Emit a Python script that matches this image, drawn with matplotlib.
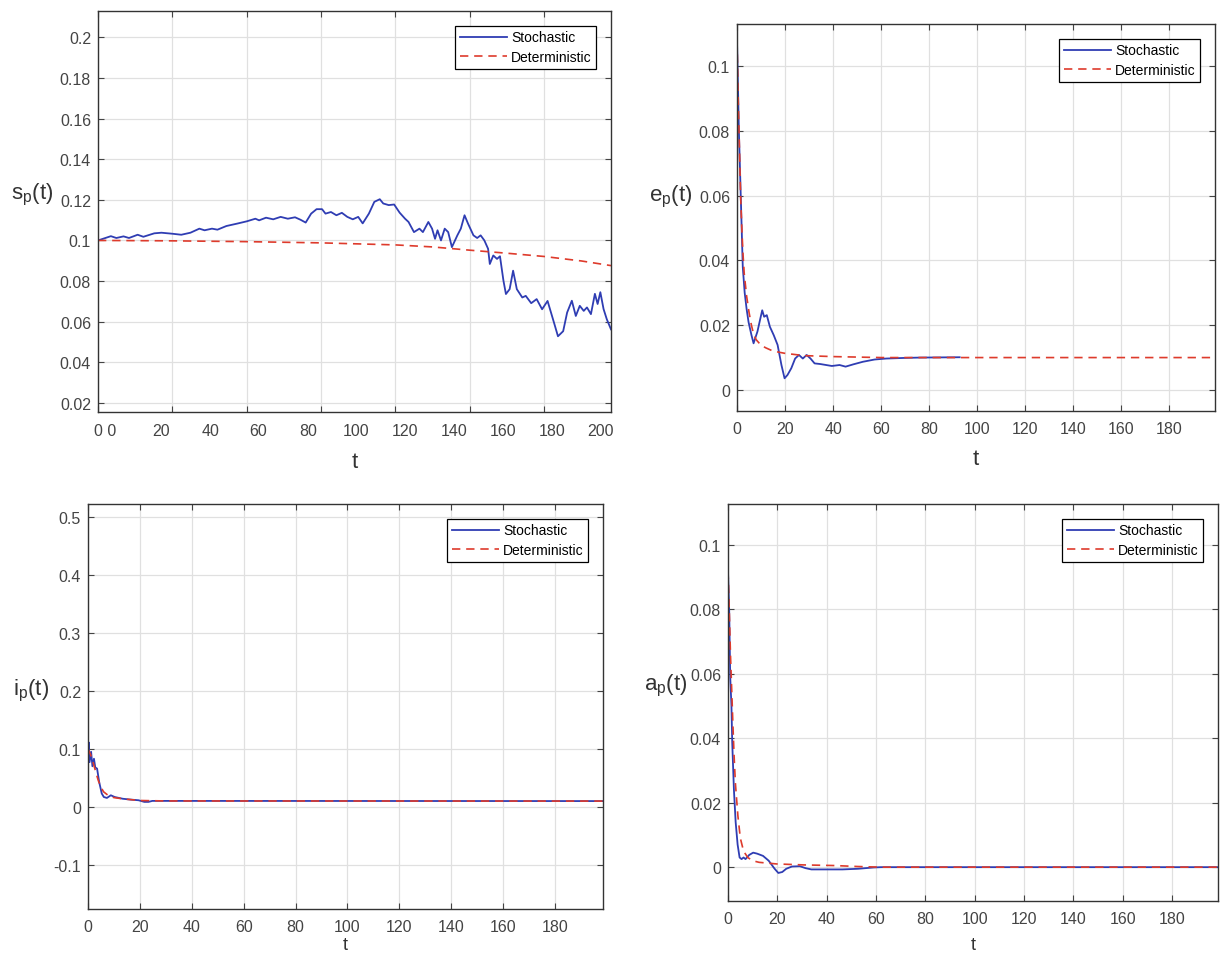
import numpy as np
import matplotlib
matplotlib.use("Agg")
import matplotlib.pyplot as plt
from matplotlib.ticker import FuncFormatter

plt.rcParams['font.family'] = ['Liberation Sans', 'DejaVu Sans']
plt.rcParams['mathtext.fontset'] = 'custom'
plt.rcParams['mathtext.rm'] = 'Liberation Sans'
plt.rcParams['mathtext.it'] = 'Liberation Sans'
plt.rcParams['axes.unicode_minus'] = False

# ---- data ----
# s_p(t)
sp_t_sto = [0, 5.2, 7.4, 10.3, 12.5, 16, 18.3, 22.7, 25.6, 30, 33.6, 37.3, 40.9, 43, 46, 48.2,
            51.8, 56.2, 60, 63.5, 65, 67.8, 70.7, 73.7, 76.6, 79.5, 81.7, 83.8, 86, 88.2, 90.4,
            91.8, 94, 96.2, 98.4, 100.6, 102.8, 105, 106.8, 109.3, 111.5, 113.7, 115.1, 117.3,
            119.5, 121.7, 123.9, 125.3, 127.5, 129.7, 131.1, 133.3, 134.8, 136, 137, 138.4,
            139.9, 141.3, 142.8, 145, 146.4, 147.9, 149.3, 151.5, 153, 154.4, 155.9, 157.4,
            158.1, 159.5, 161, 162.2, 163.6, 164.6, 166.1, 167.5, 169, 171.2, 172.6, 174.8,
            177, 179.2, 181.4, 184, 185.6, 187.7, 189.3, 191.2, 192.8, 194.4, 196, 197.3,
            198.9, 200.5, 201.6, 202.7, 204, 205.3, 207]
sp_sto = [0.1, 0.1021, 0.1012, 0.102, 0.1012, 0.1028, 0.1018, 0.1035, 0.1038, 0.1033, 0.1028,
          0.1038, 0.1058, 0.105, 0.1058, 0.1053, 0.1071, 0.1083, 0.1094, 0.1107, 0.1099, 0.1112,
          0.1104, 0.1116, 0.1107, 0.1114, 0.1102, 0.1088, 0.1132, 0.1154, 0.1154, 0.1132, 0.114,
          0.1124, 0.1136, 0.1116, 0.1104, 0.1116, 0.1084, 0.1132, 0.119, 0.1203, 0.1182, 0.1174,
          0.1177, 0.1137, 0.1107, 0.1091, 0.1041, 0.1058, 0.1041, 0.1091, 0.1058, 0.1008, 0.105,
          0.1, 0.1058, 0.1041, 0.0967, 0.1025, 0.1058, 0.1124, 0.1083, 0.1025, 0.1012, 0.1025,
          0.1, 0.0959, 0.0884, 0.0926, 0.0909, 0.0922, 0.0802, 0.0736, 0.076, 0.0851, 0.076,
          0.0719, 0.0727, 0.0691, 0.0711, 0.0661, 0.0702, 0.0595, 0.0528, 0.0553, 0.0645,
          0.0703, 0.0628, 0.0678, 0.0653, 0.067, 0.0637, 0.0737, 0.0687, 0.0745, 0.0662,
          0.0612, 0.0562]
sp_t_det = [0, 30, 60, 90, 120, 135, 150, 165, 180, 195, 207]
sp_det = [0.1, 0.0998, 0.0994, 0.0988, 0.0978, 0.0968, 0.0952, 0.0937, 0.0921, 0.0899, 0.0876]
sp_xlabels = ["0 0", "20", "40", "60", "80", "100", "120", "140", "160", "180", "200"]

# e_p(t)
ep_t_sto = [0, 0.8, 1.6, 2.4, 3.2, 4, 4.8, 6, 6.9, 7.6, 8.5, 9.7, 10.5, 11.3, 12.4, 13.7, 15.3,
            16.9, 18.5, 19.8, 21, 22.6, 24.2, 25.8, 27.4, 29, 30.6, 32.3, 34.7, 37.1, 39.5, 42.7,
            45.2, 48.4, 52.4, 57.3, 62.1, 70.2, 76.6, 92.7]
ep_sto = [0.108, 0.0795, 0.059, 0.038, 0.030, 0.025, 0.021, 0.017, 0.0144, 0.016, 0.018, 0.022,
          0.0246, 0.0226, 0.0231, 0.0195, 0.0169, 0.0139, 0.0077, 0.0036, 0.0046, 0.0067,
          0.0097, 0.0108, 0.0097, 0.0108, 0.0097, 0.0082, 0.008, 0.0077, 0.0074, 0.0077,
          0.0072, 0.0079, 0.0087, 0.0094, 0.0097, 0.0099, 0.01, 0.0101]
ep_t_det = [0, 0.5, 1, 1.5, 2, 2.5, 3, 4, 5, 6, 7, 8, 10, 12, 15, 20, 28, 40, 60, 199]
ep_det = [0.108, 0.09, 0.075, 0.06, 0.05, 0.042, 0.036, 0.029, 0.024, 0.02, 0.017, 0.0155,
          0.0138, 0.013, 0.012, 0.0113, 0.0106, 0.0103, 0.01, 0.01]

# i_p(t)
ip_t_sto = [0, 0.3, 0.6, 1.2, 1.7, 2.3, 2.8, 3.5, 4.3, 5.3, 6.1, 7.3, 8.8, 10.3, 13.4, 16.4,
            19.5, 21.7, 23.3, 24.8, 199]
ip_sto = [0.089, 0.111, 0.077, 0.095, 0.07, 0.083, 0.068, 0.066, 0.043, 0.023, 0.017, 0.0154,
          0.02, 0.017, 0.014, 0.0126, 0.0114, 0.0086, 0.0086, 0.0103, 0.01]
ip_t_det = [0, 1, 2, 3, 4, 5, 6, 8, 10, 14, 20, 30, 199]
ip_det = [0.1, 0.09, 0.076, 0.06, 0.045, 0.034, 0.026, 0.019, 0.016, 0.0135, 0.011, 0.0102, 0.01]

# a_p(t)
ap_t_sto = [0, 0.5, 0.9, 1.4, 1.7, 2.4, 3.1, 3.9, 4.7, 5.5, 6.3, 7.1, 8.6, 10.2, 11.8, 14.2,
            16.5, 18.9, 20.4, 22, 23.6, 25.9, 29.1, 31.4, 33.8, 40.1, 46.4, 52.7, 59, 62, 199]
ap_sto = [0.092, 0.079, 0.059, 0.05, 0.039, 0.024, 0.014, 0.007, 0.003, 0.0025, 0.003, 0.0025,
          0.0038, 0.0045, 0.0042, 0.0035, 0.002, -0.0005, -0.0018, -0.0015, -0.0005, 0.0002,
          0.0003, -0.0003, -0.0007, -0.0007, -0.0007, -0.0005, -0.0001, 0.0, 0.0]
ap_t_det = [0, 0.5, 1, 1.5, 2, 2.5, 3, 4, 5, 6.3, 8, 10, 12.6, 19.7, 30.7, 43.2, 52.7, 62, 199]
ap_det = [0.092, 0.08, 0.066, 0.055, 0.044, 0.034, 0.026, 0.016, 0.009, 0.005, 0.003, 0.002,
          0.0015, 0.001, 0.0007, 0.0005, 0.0002, 0.0, 0.0]

BLUE = '#2f3db3'
RED = '#de3b2c'
TXT = '#444444'
LAB = '#333333'

W, H = 1220, 954
fig = plt.figure(figsize=(W / 100, H / 100), dpi=100)


def make_axes(x0, y0, x1, y1):
    # pixel box (top-left origin) -> figure fraction
    return fig.add_axes([x0 / W, 1 - y1 / H, (x1 - x0) / W, (y1 - y0) / H])


def style(ax, xlim, ylim, yticks, ylabel, lab_x, lab_y):
    ax.set_xlim(*xlim)
    ax.set_ylim(*ylim)
    ax.set_yticks(yticks)
    ax.yaxis.set_major_formatter(FuncFormatter(lambda v, p: f"{v:g}"))
    ax.grid(True, which='major', color='#e0e0e0', linewidth=0.9)
    ax.set_axisbelow(True)
    ax.tick_params(which='major', direction='in', top=True, right=True, length=4, width=0.8,
                   colors=TXT, labelsize=11.5)
    ax.tick_params(axis='x', which='major', pad=7)
    ax.tick_params(axis='y', which='major', pad=5)
    for s in ax.spines.values():
        s.set_color('#333333')
        s.set_linewidth(1.0)
    ax.set_ylabel(ylabel, rotation=0, fontsize=16, color=LAB, ha='center', va='center')
    ax.yaxis.set_label_coords(lab_x, lab_y)
    leg = ax.legend(loc='upper right', fontsize=10, fancybox=False, edgecolor='black',
                    framealpha=1, borderaxespad=1.05, handlelength=3.4, handletextpad=0.25,
                    labelspacing=0.4, borderpad=0.35)
    leg.get_frame().set_linewidth(0.9)


def draw(ax, ts, ys, td, yd):
    ax.plot(ts, ys, color=BLUE, linewidth=1.3, label='Stochastic')
    ax.plot(td, yd, color=RED, linewidth=1.2, linestyle=(0, (5, 3.5)), label='Deterministic')


# top-left: s_p
ax1 = make_axes(98, 12, 611, 413)
draw(ax1, sp_t_sto, sp_sto, sp_t_det, sp_det)
style(ax1, (0, 207), (0.0155, 0.213), np.arange(0.02, 0.201, 0.02),
      r'$\mathregular{s_p(t)}$', -0.128, 0.545)
ax1.set_xticks(np.arange(0, 207, 30))
ax1.set_xticklabels([])
sp_label_pos = [3.0, 25.5, 45.5, 64.7, 84.7, 104, 124, 143.7, 163.5, 183.4, 202.9]
ax1.set_xticks(sp_label_pos, sp_xlabels, minor=True)
ax1.tick_params(axis='x', which='minor', length=0, pad=8, colors=TXT, labelsize=11.5)
ax1.set_xlabel('t', fontsize=16, color=LAB, labelpad=9)

# top-right: e_p
ax2 = make_axes(737, 25, 1215, 412)
draw(ax2, ep_t_sto, ep_sto, ep_t_det, ep_det)
style(ax2, (0, 199), (-0.0065, 0.113), np.arange(0, 0.101, 0.02),
      r'$\mathregular{e_p(t)}$', -0.138, 0.555)
ax2.set_xticks(np.arange(0, 199, 20))
ax2.set_xlabel('t', fontsize=16, color=LAB, labelpad=9)

# bottom-left: i_p
ax3 = make_axes(88, 505, 603, 910)
draw(ax3, ip_t_sto, ip_sto, ip_t_det, ip_det)
style(ax3, (0, 198.5), (-0.176, 0.522), np.arange(-0.1, 0.51, 0.1),
      r'$\mathregular{i_p(t)}$', -0.11, 0.54)
ax3.set_xticks(np.arange(0, 199, 20))
ax3.set_xlabel('t', fontsize=13, color=LAB)
ax3.xaxis.set_label_coords(0.5, -(937 - 910) / 405)

# bottom-right: a_p
ax4 = make_axes(728, 505, 1218, 902)
draw(ax4, ap_t_sto, ap_sto, ap_t_det, ap_det)
style(ax4, (0, 198.6), (-0.0105, 0.1127), np.arange(0, 0.101, 0.02),
      r'$\mathregular{a_p(t)}$', -0.128, 0.545)
ax4.set_xticks(np.arange(0, 199, 20))
ax4.set_xlabel('t', fontsize=13, color=LAB)
ax4.xaxis.set_label_coords(0.5, -(937 - 902) / 397)

fig.savefig('out.png', dpi=100)
